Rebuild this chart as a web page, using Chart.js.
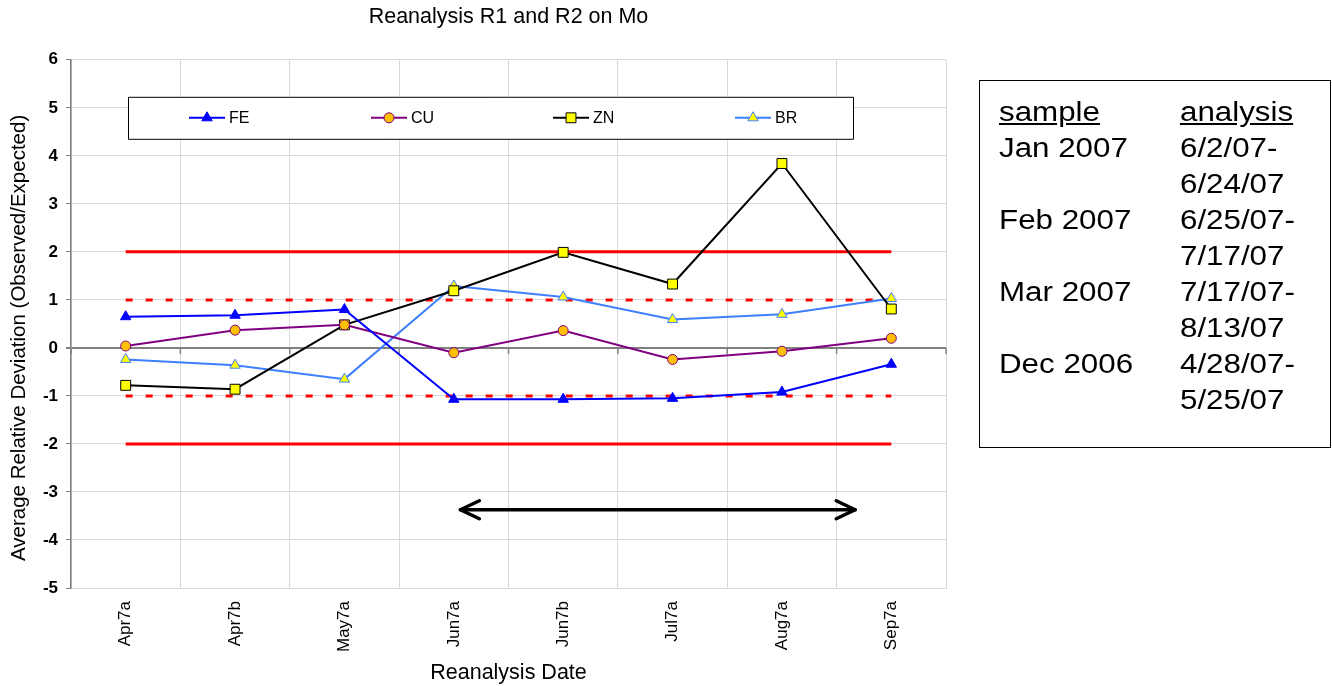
<!DOCTYPE html>
<html lang="en">
<head>
<meta charset="UTF-8">
<title>Reanalysis R1 and R2 on Mo</title>
<script src="https://cdn.jsdelivr.net/npm/chart.js"></script>
<style>
    body {
        margin: 0;
        background: #fff;
        font-family: 'Liberation Sans', Arial, sans-serif;
    }
    .wrap {
        position: relative;
        width: 1332px;
        height: 686px;
    }
    #moChart {
        position: absolute;
        left: 0;
        top: 0;
    }
    .dates {
        position: absolute;
        left: 979px;
        top: 80px;
        width: 352px;
        height: 368px;
        box-sizing: border-box;
        border: 1.5px solid #000;
        padding: 13px 0 0 19px;
        font-size: 27px;
        line-height: 36px;
        color: #000;
        overflow: hidden;
    }
    .dates .inner {
        transform: scaleX(1.16);
        transform-origin: left top;
    }
    .row {
        display: flex;
    }
    .row .c1 { width: 156px; }
    .head span { text-decoration: underline; }
</style>
</head>
<body>
<div class="wrap">
    <canvas id="moChart" width="1332" height="686"></canvas>
    <div class="dates"><div class="inner" id="dates"></div></div>
</div>

<script>
    // chart data
    const categories = ['Apr7a', 'Apr7b', 'May7a', 'Jun7a', 'Jun7b', 'Jul7a', 'Aug7a', 'Sep7a'];
    const feValues = [0.65, 0.68, 0.80, -1.07, -1.07, -1.05, -0.92, -0.34];
    const cuValues = [0.04, 0.37, 0.48, -0.10, 0.36, -0.24, -0.07, 0.20];
    const znValues = [-0.78, -0.86, 0.48, 1.19, 1.99, 1.33, 3.84, 0.81];
    const brValues = [-0.24, -0.36, -0.65, 1.29, 1.06, 0.59, 0.70, 1.03];
    const solidLimits = [2, -2];
    const dottedLimits = [1, -1];
    const yRange = [-5, 6];
    const arrowSpan = [3.06, 6.67];   // category positions
    const arrowLevel = -3.37;
    const yTitle = 'Average Relative Deviation (Observed/Expected)';

    // side box text
    const sampleMonths = ['Jan 2007', 'Feb 2007', 'Mar 2007', 'Dec 2006'];
    const analysisFrom = ['6/2/07-', '6/25/07-', '7/17/07-', '4/28/07-'];
    const analysisTo = ['6/24/07', '7/17/07', '8/13/07', '5/25/07'];

    // build the side box
    let html = '<div class="row head"><div class="c1"><span>sample</span></div><div><span>analysis</span></div></div>';
    sampleMonths.forEach((m, i) => {
        html += '<div class="row"><div class="c1">' + m + '</div><div>' + analysisFrom[i] + '</div></div>';
        html += '<div class="row"><div class="c1"></div><div>' + analysisTo[i] + '</div></div>';
    });
    document.getElementById('dates').innerHTML = html;

    Chart.defaults.font.family = "'Liberation Sans', Arial, sans-serif";
    Chart.defaults.color = '#000';

    function series(label, values, color, style, fill, radius) {
        return {
            label: label,
            data: values,
            borderColor: color,
            backgroundColor: fill,
            borderWidth: 2,
            pointStyle: style,
            pointRadius: radius,
            pointBackgroundColor: fill,
            pointBorderColor: color,
            pointBorderWidth: 1,
            tension: 0,
            inLegend: true
        };
    }

    function limitLine(value, dashed) {
        return {
            label: 'limit ' + value,
            data: [{ x: categories[0], y: value }, { x: categories[categories.length - 1], y: value }],
            borderColor: '#ff0000',
            borderWidth: 3,
            borderDash: dashed ? [7, 13] : [],
            pointRadius: 0,
            inLegend: false
        };
    }

    function drawMarker(ctx, style, x, y, r, fill, stroke) {
        ctx.beginPath();
        if (style === 'triangle') {
            ctx.moveTo(x, y - r);
            ctx.lineTo(x + r * 0.866, y + r * 0.5);
            ctx.lineTo(x - r * 0.866, y + r * 0.5);
            ctx.closePath();
        } else if (style === 'rect') {
            const s = r * Math.SQRT1_2;
            ctx.rect(x - s, y - s, 2 * s, 2 * s);
        } else {
            ctx.arc(x, y, r, 0, Math.PI * 2);
        }
        ctx.fillStyle = fill;
        ctx.fill();
        ctx.lineWidth = 1;
        ctx.strokeStyle = stroke;
        ctx.stroke();
    }

    // y title, little ticks on the zero line, arrow, legend box inside the plot
    const extras = {
        id: 'extras',
        beforeDatasetsDraw(chart) {
            const { ctx, chartArea, scales: { x, y } } = chart;
            const y0 = y.getPixelForValue(0);
            ctx.save();
            ctx.strokeStyle = '#808080';
            ctx.lineWidth = 1.5;
            for (let i = 0; i <= categories.length; i++) {
                const px = x.getPixelForValue(i - 0.5);
                ctx.beginPath();
                ctx.moveTo(px, y0);
                ctx.lineTo(px, y0 + 6);
                ctx.stroke();
            }
            // rotated y title, sits a bit below the plot middle like the original
            ctx.translate(19, (chartArea.top + chartArea.bottom) / 2 + 14);
            ctx.rotate(-Math.PI / 2);
            ctx.font = "20.5px 'Liberation Sans', Arial, sans-serif";
            ctx.fillStyle = '#000';
            ctx.textAlign = 'center';
            ctx.textBaseline = 'middle';
            ctx.fillText(yTitle, 0, 0);
            ctx.restore();
        },
        afterDatasetsDraw(chart) {
            const { ctx, chartArea, scales: { x, y } } = chart;
            ctx.save();

            // double arrow
            const ay = y.getPixelForValue(arrowLevel);
            const ax1 = x.getPixelForValue(arrowSpan[0]);
            const ax2 = x.getPixelForValue(arrowSpan[1]);
            ctx.strokeStyle = '#000';
            ctx.lineWidth = 3.5;
            ctx.lineCap = 'round';
            ctx.lineJoin = 'round';
            ctx.beginPath();
            ctx.moveTo(ax1, ay);
            ctx.lineTo(ax2, ay);
            ctx.stroke();
            ctx.beginPath();
            ctx.moveTo(ax1 + 19, ay - 9);
            ctx.lineTo(ax1, ay);
            ctx.lineTo(ax1 + 19, ay + 9);
            ctx.moveTo(ax2 - 19, ay - 9);
            ctx.lineTo(ax2, ay);
            ctx.lineTo(ax2 - 19, ay + 9);
            ctx.stroke();

            // legend box
            const bx = chartArea.left + 57, by = chartArea.top + 37, bw = 725, bh = 42;
            ctx.fillStyle = '#fff';
            ctx.fillRect(bx, by, bw, bh);
            ctx.strokeStyle = '#000';
            ctx.lineWidth = 1;
            ctx.lineCap = 'butt';
            ctx.strokeRect(bx + 0.5, by + 0.5, bw, bh);

            const items = chart.data.datasets.filter(d => d.inLegend);
            const cy = by + bh / 2;
            ctx.font = "16px 'Liberation Sans', Arial, sans-serif";
            ctx.textBaseline = 'middle';
            items.forEach((d, i) => {
                const lx = bx + 61 + i * 182;
                ctx.strokeStyle = d.borderColor;
                ctx.lineWidth = 2;
                ctx.beginPath();
                ctx.moveTo(lx, cy);
                ctx.lineTo(lx + 36, cy);
                ctx.stroke();
                drawMarker(ctx, d.pointStyle, lx + 18, cy, d.pointRadius, d.pointBackgroundColor, d.pointBorderColor);
                ctx.fillStyle = '#000';
                ctx.fillText(d.label, lx + 40, cy + 1);
            });
            ctx.restore();
        }
    };

    new Chart(document.getElementById('moChart'), {
        type: 'line',
        data: {
            labels: categories,
            datasets: [
                series('FE', feValues, '#0000ff', 'triangle', '#0000ff', 6),
                series('CU', cuValues, '#800080', 'circle', '#ffc000', 5),
                series('ZN', znValues, '#000000', 'rect', '#ffff00', 7),
                series('BR', brValues, '#3f7fff', 'triangle', '#ffff00', 6),
                limitLine(solidLimits[0], false),
                limitLine(solidLimits[1], false),
                limitLine(dottedLimits[0], true),
                limitLine(dottedLimits[1], true)
            ]
        },
        options: {
            responsive: false,
            animation: false,
            layout: { padding: { top: 0, right: 386, bottom: 0, left: 0 } },
            plugins: {
                legend: { display: false },
                tooltip: { enabled: false },
                title: {
                    display: true,
                    text: 'Reanalysis R1 and R2 on Mo',
                    fullSize: false,
                    color: '#000',
                    font: { size: 21.5, weight: 'normal' },
                    padding: { top: 4, bottom: 30 }
                }
            },
            scales: {
                x: {
                    offset: true,
                    grid: { offset: true, color: '#d9d9d9', drawTicks: false },
                    border: { color: '#d9d9d9' },
                    ticks: { minRotation: 90, maxRotation: 90, padding: 13, font: { size: 17 } },
                    title: { display: true, text: 'Reanalysis Date', font: { size: 21.5 }, padding: { top: 0, bottom: 0 } },
                    afterFit: s => { s.height = 98; }
                },
                y: {
                    min: yRange[0],
                    max: yRange[1],
                    ticks: { stepSize: 1, padding: 8, font: { size: 17, weight: 'bold' } },
                    grid: {
                        color: c => (c.tick && c.tick.value === 0) ? '#808080' : '#d9d9d9',
                        lineWidth: c => (c.tick && c.tick.value === 0) ? 2 : 1,
                        tickLength: 5,
                        tickColor: '#808080'
                    },
                    border: { color: '#808080', width: 1.5 },
                    afterFit: s => { s.width = 71; }
                }
            }
        },
        plugins: [extras]
    });
</script>
</body>
</html>
